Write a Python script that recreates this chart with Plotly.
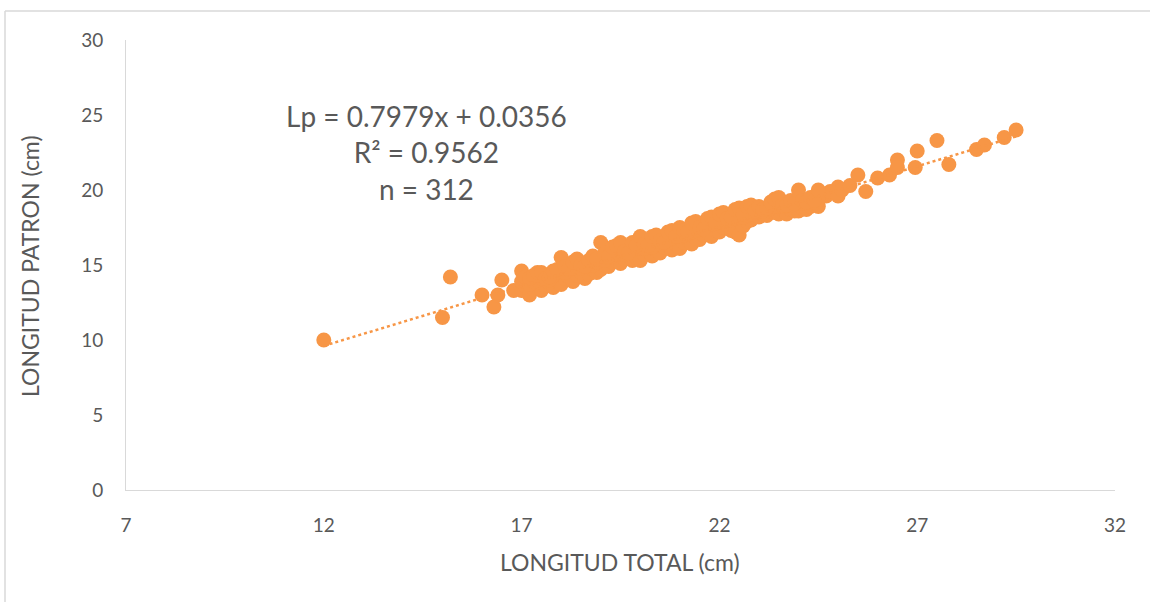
import plotly.graph_objects as go

# ---- data ----
# dense band: for each total length, a low / middle / high standard length
band_x = [17.0, 17.1, 17.2, 17.3, 17.4, 17.5, 17.6, 17.7, 17.8, 17.9,
          18.0, 18.1, 18.2, 18.3, 18.4, 18.5, 18.6, 18.7, 18.8, 18.9,
          19.0, 19.1, 19.2, 19.3, 19.4, 19.5, 19.6, 19.7, 19.8, 19.9,
          20.0, 20.1, 20.2, 20.3, 20.4, 20.5, 20.6, 20.7, 20.8, 20.9,
          21.0, 21.1, 21.2, 21.3, 21.4, 21.5, 21.6, 21.7, 21.8, 21.9,
          22.0, 22.1, 22.2, 22.3, 22.4, 22.5, 22.6, 22.7, 22.8, 22.9,
          23.0, 23.1, 23.2, 23.3, 23.4, 23.5, 23.6, 23.7, 23.8, 23.9,
          24.0, 24.1, 24.2, 24.3, 24.4, 24.5]
band_low = [13.3, 13.6, 13.0, 13.4, 13.7, 13.3, 13.6, 13.8, 13.5, 13.9,
            13.7, 14.1, 14.2, 13.9, 14.3, 14.5, 14.1, 14.4, 14.7, 14.5,
            14.7, 15.0, 14.9, 15.2, 15.3, 15.1, 15.4, 15.6, 15.3, 15.5,
            15.3, 15.7, 15.9, 15.6, 16.0, 15.8, 16.2, 16.3, 16.0, 16.4,
            16.1, 16.5, 16.7, 16.4, 16.8, 16.7, 17.0, 17.2, 16.9, 17.3,
            17.2, 17.5, 17.6, 17.3, 17.2, 17.0, 17.6, 17.9, 18.0, 18.2,
            18.2, 18.4, 18.3, 18.6, 18.5, 18.4, 18.7, 18.4, 18.7, 18.6,
            18.6, 18.8, 18.7, 18.9, 19.0, 18.9]
band_mid = [13.9, 14.0, 13.7, 13.9, 14.0, 14.1, 14.2, 14.0, 14.3, 14.5,
            14.6, 14.5, 14.7, 14.8, 14.9, 14.8, 15.0, 15.1, 15.0, 15.2,
            15.4, 15.3, 15.5, 15.6, 15.7, 15.8, 15.7, 15.9, 16.0, 16.1,
            16.2, 16.1, 16.3, 16.2, 16.4, 16.5, 16.6, 16.7, 16.8, 16.9,
            16.9, 17.0, 17.1, 17.2, 17.3, 17.4, 17.5, 17.6, 17.7, 17.8,
            17.9, 17.9, 18.0, 18.0, 18.1, 18.2, 18.2, 18.3, 18.4, 18.5,
            18.6, 18.6, 18.7, 18.8, 18.9, 18.9, 18.9, 19.0, 19.0, 19.1,
            19.2, 19.1, 19.2, 19.1, 19.2, 19.3]
band_high = [14.6, 14.2, 14.1, 14.3, 14.5, 14.5, 14.1, 14.2, 14.6, 14.7,
             15.5, 14.9, 14.8, 15.2, 15.4, 15.0, 14.9, 15.3, 15.6, 15.4,
             16.5, 15.8, 15.6, 16.2, 16.3, 16.5, 15.9, 15.8, 16.5, 16.3,
             16.9, 16.4, 16.3, 16.9, 17.0, 16.6, 16.5, 17.2, 17.3, 16.9,
             17.5, 17.3, 17.2, 17.8, 17.9, 17.5, 17.4, 18.1, 18.2, 17.8,
             18.4, 18.5, 18.1, 18.2, 18.7, 18.8, 18.4, 18.9, 19.0, 18.6,
             18.9, 18.7, 18.8, 19.2, 19.4, 19.5, 19.0, 19.0, 19.3, 19.1,
             20.0, 19.3, 19.2, 19.5, 19.3, 20.0]

# isolated fish outside the dense band
extra_x = [12.0, 15.0, 15.2, 16.0, 16.3, 16.4, 16.5, 16.8,
           24.7, 24.8, 25.0, 25.0, 25.1, 25.3, 25.5, 25.7, 26.0, 26.3,
           26.5, 26.5, 26.95, 27.0, 27.5, 27.8, 28.5, 28.7, 29.2, 29.5]
extra_y = [10.0, 11.5, 14.2, 13.0, 12.2, 13.0, 14.0, 13.3,
           19.6, 19.9, 20.2, 19.6, 20.0, 20.3, 21.0, 19.9, 20.8, 21.0,
           22.0, 21.5, 21.5, 22.6, 23.3, 21.7, 22.7, 23.0, 23.5, 24.0]

slope = 0.7979
intercept = 0.0356
trend_x = [12.0, 29.5]

x_ticks = [7, 12, 17, 22, 27, 32]
y_ticks = [0, 5, 10, 15, 20, 25, 30]

# ---- assemble ----
all_x = extra_x + band_x * 3
all_y = extra_y + band_low + band_mid + band_high

ORANGE = "#F79646"
TXT = "#595959"
FONT = "Lato, Carlito, Calibri, sans-serif"

W, H = 1150, 602
L, R, T, B = 126, 35, 40, 112
PW, PH = W - L - R, H - T - B


def px(xp):
    return (xp - L) / PW


def py(yp):
    return (H - B - yp) / PH


fig = go.Figure()
fig.add_trace(go.Scatter(
    x=all_x, y=all_y, mode="markers",
    marker=dict(color=ORANGE, size=15, line=dict(width=0)),
    showlegend=False, hoverinfo="x+y"))
fig.add_trace(go.Scatter(
    x=trend_x, y=[slope * v + intercept for v in trend_x], mode="lines",
    line=dict(color=ORANGE, width=2.5, dash="dot"),
    showlegend=False, hoverinfo="skip"))

fig.update_layout(
    width=W, height=H,
    margin=dict(l=L, r=R, t=T, b=B),
    paper_bgcolor="white", plot_bgcolor="white",
    font=dict(family=FONT, color=TXT, size=16),
    xaxis=dict(range=[7, 32], tickvals=x_ticks, showgrid=False, zeroline=False,
               showline=True, linecolor="#D9D9D9", linewidth=1,
               ticks="outside", ticklen=18, tickcolor="rgba(0,0,0,0)",
               tickfont=dict(size=19, color=TXT)),
    yaxis=dict(range=[0, 30], tickvals=y_ticks, showgrid=False, zeroline=False,
               showline=True, linecolor="#D9D9D9", linewidth=1,
               ticks="outside", ticklen=18, tickcolor="rgba(0,0,0,0)",
               tickfont=dict(size=19, color=TXT)),
    annotations=[
        dict(text="Lp = 0.7979x + 0.0356<br>R² = 0.9562<br>n = 312",
             xref="paper", yref="paper", x=px(426), y=py(153),
             xanchor="center", yanchor="middle", showarrow=False,
             align="center", font=dict(size=28, color=TXT, family=FONT)),
        dict(text="LONGITUD TOTAL (cm)", xref="paper", yref="paper",
             x=px(620), y=py(562), xanchor="center", yanchor="middle",
             showarrow=False, font=dict(size=23, color=TXT)),
        dict(text="LONGITUD PATRON (cm)", xref="paper", yref="paper",
             x=px(30), y=py(266), xanchor="center", yanchor="middle",
             textangle=-90, showarrow=False, font=dict(size=23, color=TXT)),
    ],
    shapes=[
        dict(type="line", xref="paper", yref="paper",
             x0=px(5), x1=px(1150), y0=py(11), y1=py(11),
             line=dict(color="#D9D9D9", width=1.5)),
        dict(type="line", xref="paper", yref="paper",
             x0=px(5), x1=px(5), y0=py(11), y1=py(602),
             line=dict(color="#D9D9D9", width=1.5)),
    ],
)

fig.write_html("out.html", config={"displayModeBar": False},
               post_script="document.body.style.margin='0';")
